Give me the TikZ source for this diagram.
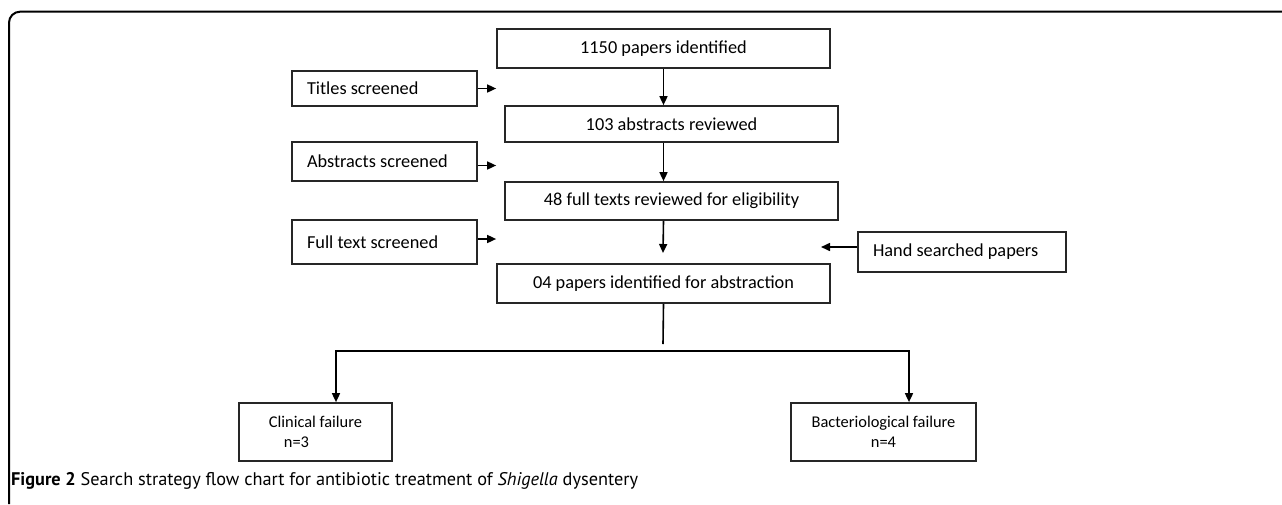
\documentclass[tikz,border=0pt]{standalone}
\usepackage{fontspec}
\setmainfont{Carlito}
\newfontfamily\capfont{PT Sans}
\usetikzlibrary{arrows.meta, positioning, calc}

\begin{document}
\begin{tikzpicture}[
  x=1pt, y=-1pt,
  box/.style={rectangle, draw=black!85, line width=1.7pt, inner sep=0pt,
              minimum width=333pt, minimum height=38pt,
              font=\fontsize{18.3}{22}\selectfont},
  sidebox/.style={rectangle, draw=black!85, line width=1.7pt, align=flush left,
                  text width=155pt, inner xsep=15pt, inner ysep=0pt,
                  font=\fontsize{18.3}{22}\selectfont},
  resultbox/.style={rectangle, draw=black!85, line width=1.7pt, inner sep=0pt,
                    minimum height=58pt,
                    font=\fontsize{16.4}{20}\selectfont},
  arrow/.style={-{Triangle[length=9pt, width=8pt]}, line width=1.6pt},
  link/.style={line width=1.6pt}
]
\useasboundingbox (0,0) rectangle (1282,504);

% Marco
\draw[line width=2pt, rounded corners=11pt] (9,504) -- (9,11.7) -- (1282,11.7);

% Columna principal
\node[box, minimum height=39pt] (ident) at (663.5,48.5) {1150 papers identified};
\node[box, minimum height=36pt] (abstr) at (671.5,124) {103 abstracts reviewed};
\node[box]                      (full)  at (671.5,201) {48 full texts reviewed for eligibility};
\node[box, minimum height=39pt] (incl)  at (663.5,283.5) {04 papers identified for abstraction};

% Cribado
\node[sidebox, minimum height=35pt] (titles) at (384.5,88.5) {Titles screened};
\node[sidebox, minimum height=39pt] (abscr)  at (384.5,161.5) {Abstracts screened};
\node[sidebox, minimum height=44pt] (ftscr)  at (384.5,242) {Full text screened};
\node[sidebox, text width=178pt, minimum height=40pt] (hand) at (962,252) {Hand searched papers};

% Resultados
\node[resultbox, minimum width=153pt, align=left] (clin) at (315.5,432)
  {Clinical failure\\\hspace*{15pt}n=3};
\node[resultbox, minimum width=185pt, align=center] (bact) at (883.5,432)
  {Bacteriological failure\\n=4};

% Flechas
\draw[arrow] (titles.east) -- (titles.east -| ident.west);
\draw[arrow] ($(abscr.east)+(0,4)$) -- ($(abscr.east -| ident.west)+(0,4)$);
\draw[arrow] ($(ftscr.east)+(0,-3)$) -- ($(ftscr.east -| ident.west)+(0,-3)$);
\draw[arrow] (ident.south) -- (ident.south |- abstr.north);
\draw[arrow] (ident.south |- abstr.south) -- (ident.south |- full.north);

\coordinate (fullTip) at (663,253);
\coordinate (handTip) at (821,247);
\draw[arrow] (ident.south |- full.south) -- (fullTip);
\draw[arrow] (hand.west |- handTip) -- (handTip);

% Division
\coordinate (splitEnd)  at (663,344);
\coordinate (splitMid)  at (663,351);
\coordinate (leftTurn)  at (336,351);
\coordinate (rightTurn) at (909,351);
\draw[link] (incl.south) -- (splitEnd);
\draw[arrow] (splitMid) -- (leftTurn) -- (leftTurn |- clin.north);
\draw[arrow] (splitMid) -- (rightTurn) -- (rightTurn |- bact.north);

% Pie de figura
\node[anchor=west, inner sep=0pt, font=\capfont\fontsize{18.3}{22}\selectfont] (caption) at (11,481)
  {\textbf{Figure 2} Search strategy flow chart for antibiotic treatment of \textit{Shigella} dysentery};
\end{tikzpicture}
\end{document}
